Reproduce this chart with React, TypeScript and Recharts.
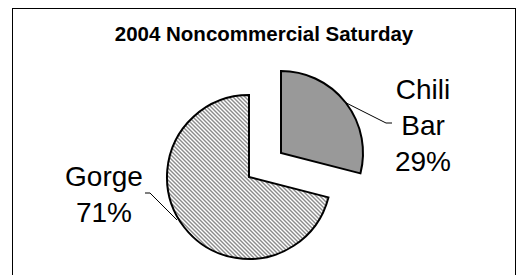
import React from 'react';
import { PieChart, Pie, Cell } from 'recharts';

const categories: string[] = ['Chili Bar', 'Gorge'];
const shares: number[] = [29, 71];
const labelTexts: string[][] = [['Chili', 'Bar', '29%'], ['Gorge', '71%']];
const title = '2004 Noncommercial Saturday';

const data = categories.map((name, i) => ({ name, value: shares[i] }));

const FONT = '"Liberation Sans", Arial, Helvetica, sans-serif';
const RAD = Math.PI / 180;

const ChiliLabel = (props: any) => {
  const { cx, cy, midAngle, outerRadius, index } = props;
  if (index !== 0) return null;
  const sx = cx + outerRadius * Math.cos(-midAngle * RAD);
  const sy = cy + outerRadius * Math.sin(-midAngle * RAD);
  const lines = labelTexts[0];
  return (
    <g>
      <polyline
        points={`${sx},${sy} ${cx + 105},${cy - 30} ${cx + 111},${cy - 30}`}
        fill="none"
        stroke="#000"
        strokeWidth={1}
      />
      {lines.map((t, i) => (
        <text
          key={i}
          x={cx + 142}
          y={cy - 54 + i * 36}
          textAnchor="middle"
          fontFamily={FONT}
          fontSize={28}
          fill="#000"
        >
          {t}
        </text>
      ))}
    </g>
  );
};

const GorgeLabel = (props: any) => {
  const { cx, cy, index } = props;
  if (index !== 1) return null;
  const lines = labelTexts[1];
  return (
    <g>
      <polyline
        points={`${cx - 104},${cy + 16} ${cx - 99},${cy + 16} ${cx - 72},${cy + 43}`}
        fill="none"
        stroke="#000"
        strokeWidth={1}
      />
      {lines.map((t, i) => (
        <text
          key={i}
          x={cx - 145}
          y={cy + 9 + i * 36}
          textAnchor="middle"
          fontFamily={FONT}
          fontSize={28}
          fill="#000"
        >
          {t}
        </text>
      ))}
    </g>
  );
};

export default function App() {
  return (
    <div style={{ position: 'absolute', left: 0, top: 0, width: 524, height: 275, overflow: 'hidden', background: '#fff' }}>
      <div
        style={{
          position: 'absolute',
          left: 12,
          top: 8,
          width: 504,
          height: 300,
          border: '1px solid #000',
          boxSizing: 'border-box',
        }}
      />
      <div
        style={{
          position: 'absolute',
          left: 0,
          width: 528,
          top: 22,
          textAlign: 'center',
          fontFamily: FONT,
          fontWeight: 'bold',
          fontSize: 20.5,
          lineHeight: '24px',
          color: '#000',
        }}
      >
        {title}
      </div>
      <div style={{ position: 'absolute', left: 0, top: 0 }}>
        <PieChart width={524} height={275}>
          <defs>
            <pattern id="hatch" x="0" y="0" width="4" height="4" patternUnits="userSpaceOnUse">
              <rect x="0" y="0" width="4" height="4" fill="#ffffff" />
              <polygon points="0,0 1,0 4,3 4,4 3,4 0,1" fill="#8c8c8c" />
              <polygon points="3,0 4,0 4,1" fill="#8c8c8c" />
              <polygon points="0,3 0,4 1,4" fill="#8c8c8c" />
            </pattern>
          </defs>
          <Pie
            data={data}
            dataKey="value"
            nameKey="name"
            cx={244}
            cy={172}
            outerRadius={82}
            startAngle={90}
            endAngle={-270}
            isAnimationActive={false}
            label={GorgeLabel}
            labelLine={false}
          >
            <Cell key="c0" fill="none" stroke="none" />
            <Cell key="c1" fill="url(#hatch)" stroke="#000" strokeWidth={2} />
          </Pie>
          <Pie
            data={data}
            dataKey="value"
            nameKey="name"
            cx={276}
            cy={148}
            outerRadius={82}
            startAngle={90}
            endAngle={-270}
            isAnimationActive={false}
            label={ChiliLabel}
            labelLine={false}
          >
            <Cell key="d0" fill="#999999" stroke="#000" strokeWidth={2} />
            <Cell key="d1" fill="none" stroke="none" />
          </Pie>
        </PieChart>
      </div>
    </div>
  );
}
